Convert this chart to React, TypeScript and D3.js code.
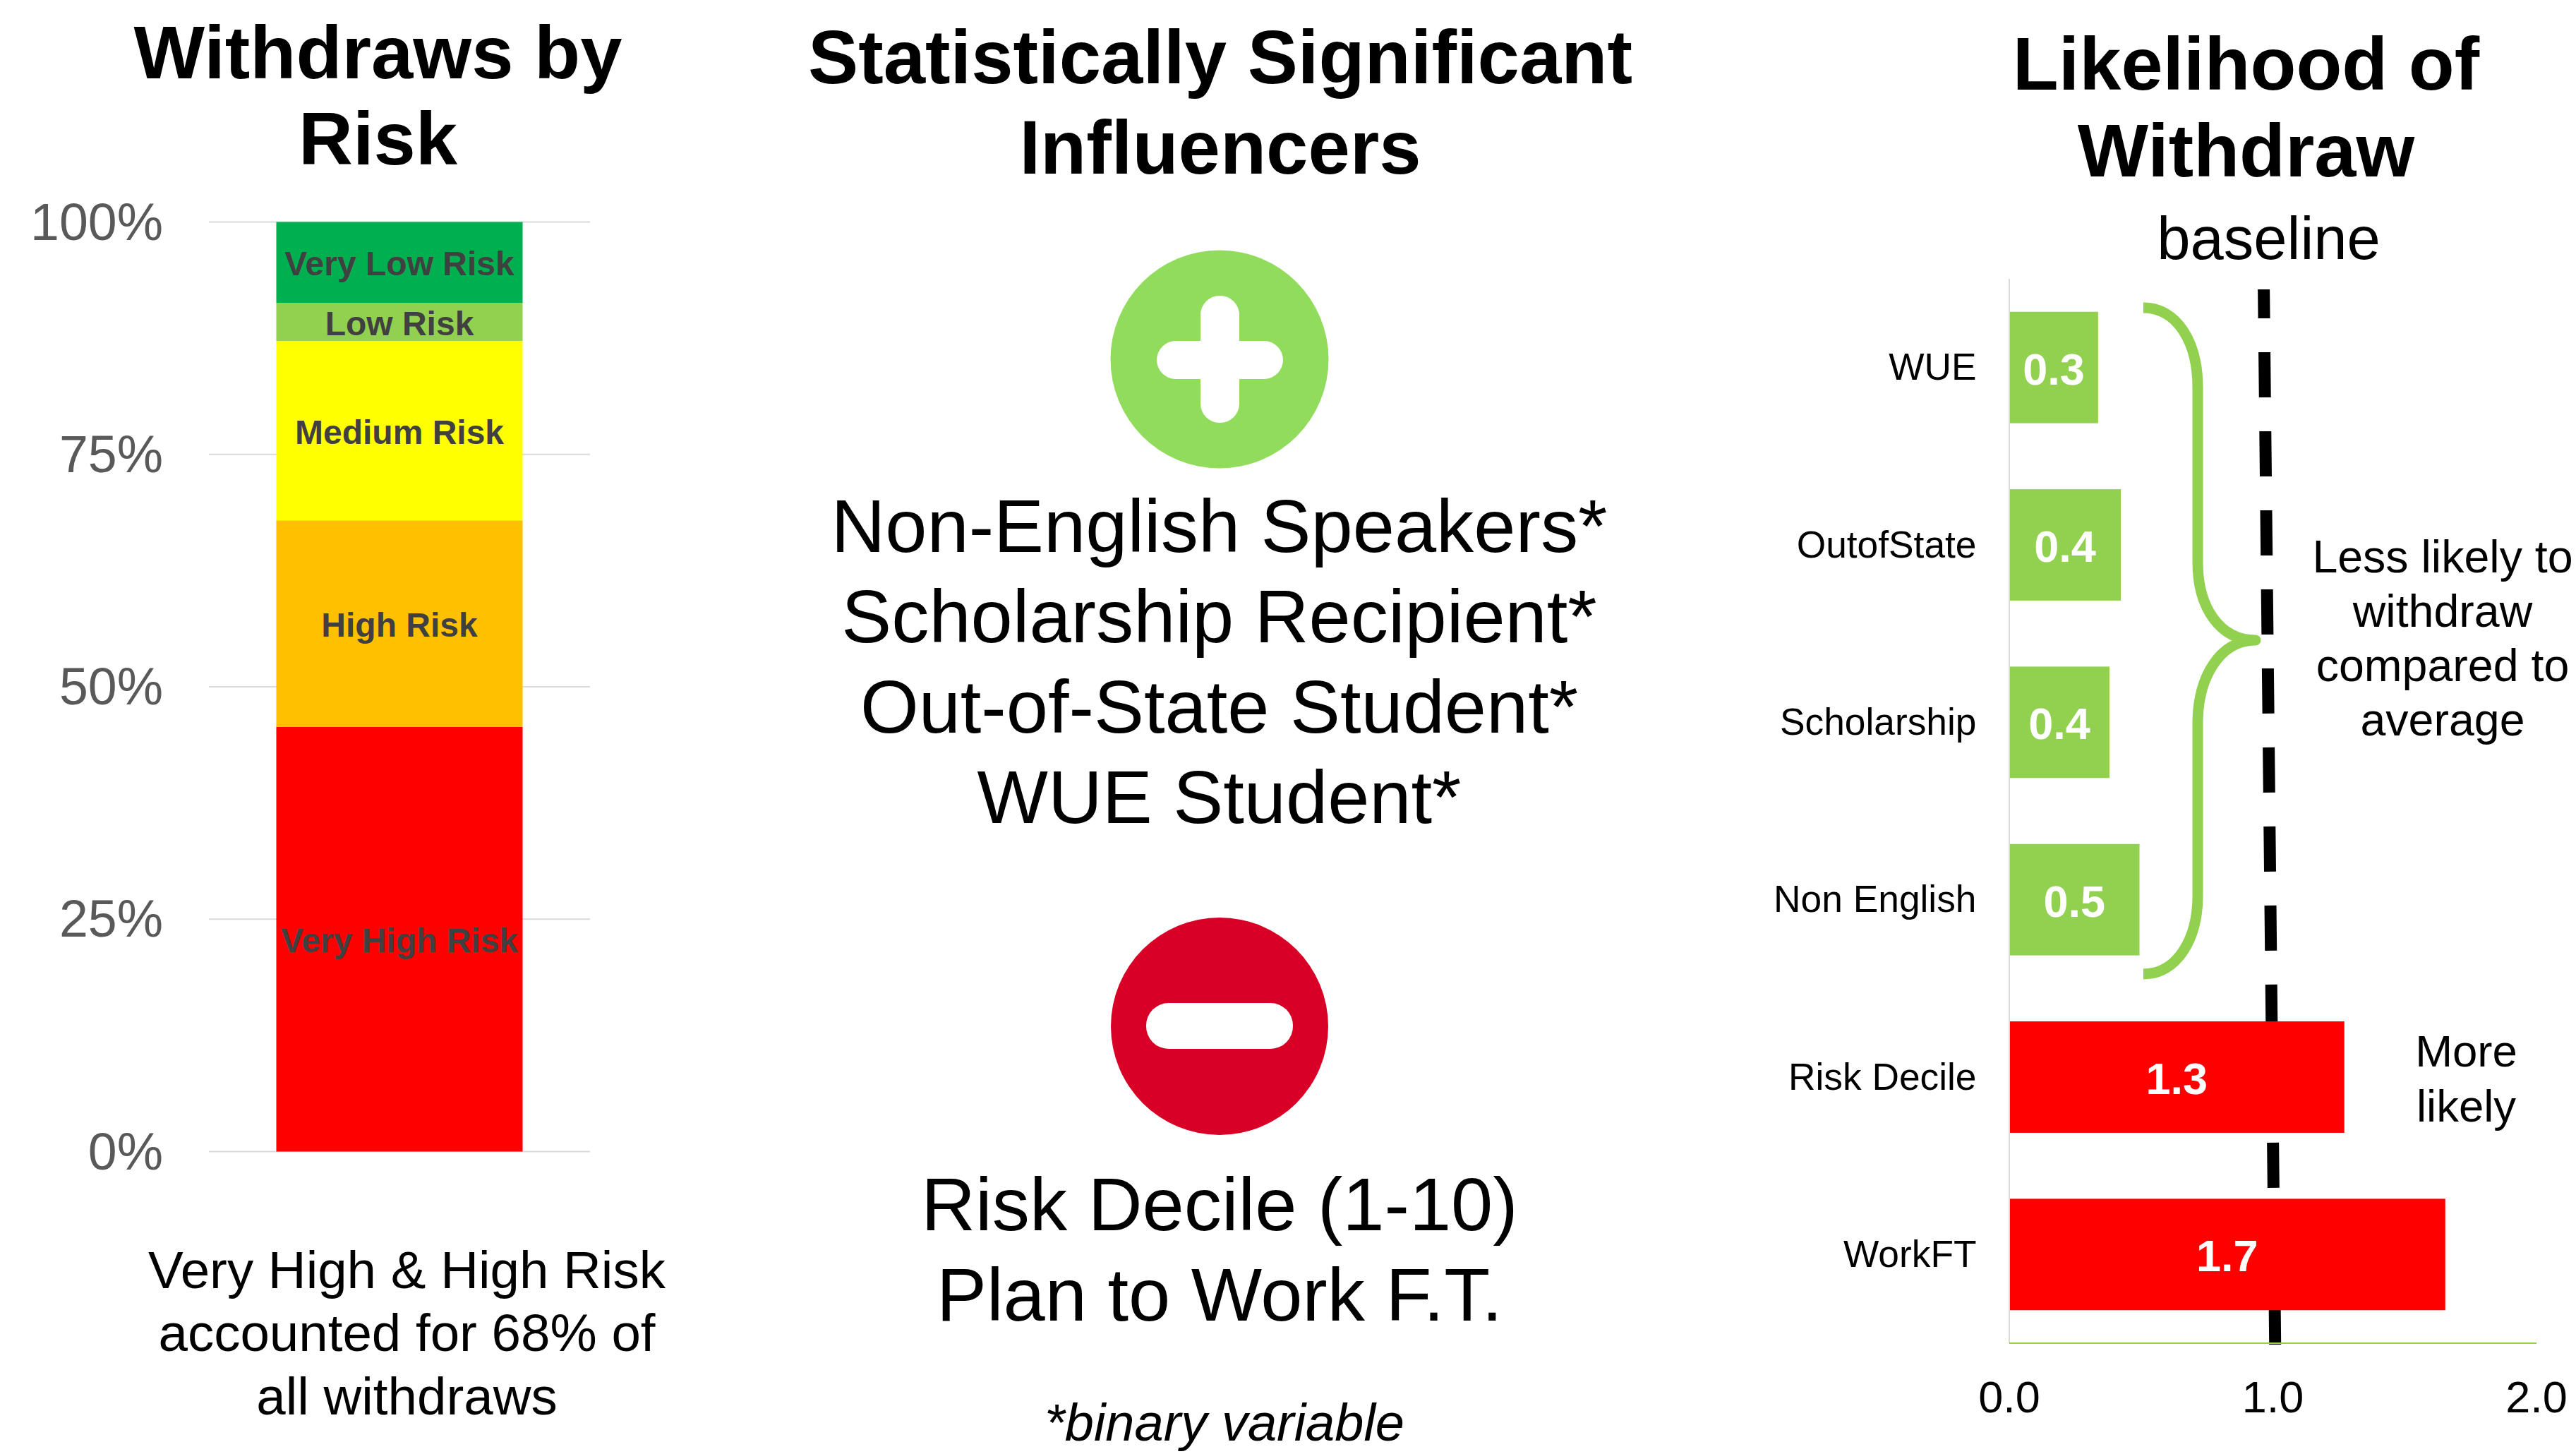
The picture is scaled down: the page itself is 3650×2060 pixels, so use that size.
import React from "react";
import * as d3 from "d3";

const riskLabels = ["Very High Risk", "High Risk", "Medium Risk", "Low Risk", "Very Low Risk"];
const riskShares = [45.7, 22.2, 19.3, 4.1, 8.7];
const riskColors = ["#ff0000", "#ffc000", "#ffff00", "#92d050", "#00b050"];
const riskTicks = [0, 25, 50, 75, 100];

const factorLabels = ["WUE", "OutofState", "Scholarship", "Non English", "Risk Decile", "WorkFT"];
const factorValues = [0.337, 0.423, 0.38, 0.494, 1.271, 1.654];
const factorShown = ["0.3", "0.4", "0.4", "0.5", "1.3", "1.7"];
const factorColors = ["#92d050", "#92d050", "#92d050", "#92d050", "#ff0000", "#ff0000"];
const likelihoodTicks = [0, 1, 2];

const positiveInfluencers = ["Non-English Speakers*", "Scholarship Recipient*", "Out-of-State Student*", "WUE Student*"];
const negativeInfluencers = ["Risk Decile (1-10)", "Plan to Work F.T."];
const noteLines = ["Very High & High Risk", "accounted for 68% of", "all withdraws"];
const lessLines = ["Less likely to", "withdraw", "compared to", "average"];
const moreLines = ["More", "likely"];

const FONT = "'Liberation Sans', Arial, sans-serif";

const yRisk = d3.scaleLinear().domain([0, 100]).range([1631.5, 314.5]);
const xRisk = d3.scaleBand().domain(["all"]).range([296, 836]).paddingInner(0).paddingOuter(0.2736);
const stackRow = Object.fromEntries(riskLabels.map((l, i) => [l, riskShares[i]]));
const riskStack = d3.stack().keys(riskLabels)([stackRow as any]);

const xLike = d3.scaleLinear().domain([0, 2]).range([2847, 3594]);
const yLike = d3.scaleBand().domain(factorLabels).range([395, 1903]).paddingInner(0.372).paddingOuter(0.186);

const bracePath =
  "M3037,436 C3085,436 3114,485 3114,549 L3114,797 C3114,860 3145,907 3196,907 C3145,907 3114,960 3114,1025 L3114,1269 C3114,1330 3085,1380 3037,1380";

function Lines({ lines, x, y0, step, size, weight, color, style }: any) {
  return (
    <text textAnchor="middle" fontSize={size} fontWeight={weight} fill={color ?? "#000"} fontStyle={style}>
      {lines.map((l: string, i: number) => (
        <tspan key={l} x={x} y={y0 + i * step}>
          {l}
        </tspan>
      ))}
    </text>
  );
}

export default function App() {
  const gridLeft = 296;
  const gridRight = 836;
  return (
    <svg
      width={3650}
      height={2060}
      viewBox="0 0 3650 2060"
      style={{ position: "absolute", left: 0, top: 0, display: "block", background: "#fff" }}
      fontFamily={FONT}
    >
      {/* Left panel */}
      <Lines lines={["Withdraws by", "Risk"]} x={535.5} y0={110.5} step={122} size={106.6} weight={700} />
      {riskTicks.map((t) => (
        <g key={t}>
          <line x1={gridLeft} x2={gridRight} y1={yRisk(t)} y2={yRisk(t)} stroke="#d9d9d9" strokeWidth={2} />
          <text x={231} y={yRisk(t) + 25} textAnchor="end" fontSize={73.5} fill="#595959">
            {t}%
          </text>
        </g>
      ))}
      {riskStack.map((s: any, i: number) => {
        const [a, b] = s[0];
        const x = xRisk("all") as number;
        return (
          <g key={s.key}>
            <rect x={x} width={xRisk.bandwidth()} y={yRisk(b)} height={yRisk(a) - yRisk(b)} fill={riskColors[i]} />
          </g>
        );
      })}
      {riskStack.map((s: any) => {
        const [a, b] = s[0];
        return (
          <text
            key={s.key}
            x={(xRisk("all") as number) + xRisk.bandwidth() / 2}
            y={(yRisk(a) + yRisk(b)) / 2 + 18.5}
            textAnchor="middle"
            fontSize={48}
            fontWeight={700}
            fill="#404040"
          >
            {s.key}
          </text>
        );
      })}
      <Lines lines={noteLines} x={576.5} y0={1825} step={89.3} size={74.5} />

      {/* Middle panel */}
      <Lines lines={["Statistically Significant", "Influencers"]} x={1729} y0={117.5} step={128} size={106.7} weight={700} />
      <circle cx={1728} cy={509} r={154.5} fill="#92dc5d" />
      <rect x={1639} y={483} width={179} height={54} rx={27} fill="#fff" />
      <rect x={1701} y={419} width={55} height={180} rx={27} fill="#fff" />
      <Lines lines={positiveInfluencers} x={1727.5} y0={781.5} step={128.2} size={106.4} />
      <circle cx={1728} cy={1454} r={154} fill="#d80027" />
      <rect x={1624} y={1421} width={208} height={65} rx={32} fill="#fff" />
      <Lines lines={negativeInfluencers} x={1728} y0={1742.5} step={128} size={106.4} />
      <Lines lines={["*binary variable"]} x={1735} y0={2041} step={0} size={74} style="italic" />

      {/* Right panel */}
      <Lines lines={["Likelihood of", "Withdraw"]} x={3182.5} y0={126.5} step={123} size={106.3} weight={700} />
      <text x={3214.5} y={366.5} textAnchor="middle" fontSize={85}>
        baseline
      </text>
      <line
        x1={xLike(0.9655)}
        x2={xLike(1.0086)}
        y1={410}
        y2={1905}
        stroke="#000"
        strokeWidth={17}
        strokeDasharray="64 48"
        strokeDashoffset={-89}
      />
      <line x1={xLike(0)} x2={xLike(0)} y1={395} y2={1903} stroke="#d9d9d9" strokeWidth={2} />
      <line x1={xLike(0)} x2={xLike(2)} y1={1903} y2={1903} stroke="#92d050" strokeWidth={2} />
      {factorLabels.map((l, i) => {
        const y = yLike(l) as number;
        const h = yLike.bandwidth();
        return (
          <g key={l}>
            <rect x={xLike(0) + 1} y={y} width={xLike(factorValues[i]) - xLike(0) - 1} height={h} fill={factorColors[i]} />
            <text x={2800.5} y={y + h / 2 + 17.5} textAnchor="end" fontSize={53.3}>
              {l}
            </text>
            <text
              x={(xLike(0) + xLike(factorValues[i])) / 2}
              y={y + h / 2 + 24}
              textAnchor="middle"
              fontSize={63}
              fontWeight={700}
              fill="#fff"
            >
              {factorShown[i]}
            </text>
          </g>
        );
      })}
      {likelihoodTicks.map((t) => (
        <text key={t} x={xLike(t)} y={2000.5} textAnchor="middle" fontSize={63}>
          {t.toFixed(1)}
        </text>
      ))}
      <path d={bracePath} fill="none" stroke="#92d050" strokeWidth={15} strokeLinejoin="round" />
      <Lines lines={lessLines} x={3461} y0={810.5} step={77} size={64.5} />
      <Lines lines={moreLines} x={3494.5} y0={1511} step={77.5} size={63.5} />
    </svg>
  );
}
